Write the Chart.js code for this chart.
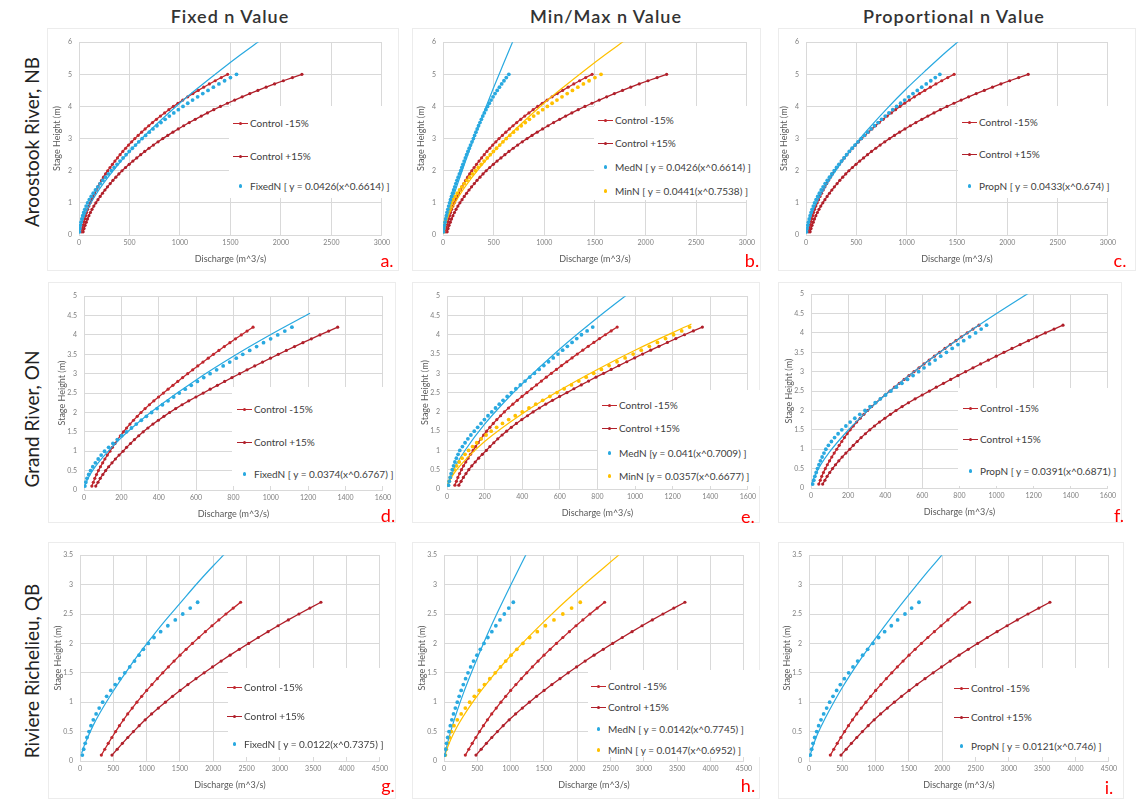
<!DOCTYPE html>
<html>
<head>
<meta charset="utf-8">
<script src="https://cdn.jsdelivr.net/npm/chart.js@4.4.0/dist/chart.umd.min.js"></script>
<style>
  body { margin: 0; background: #fff; font-family: Lato, "Open Sans", sans-serif; }
  #page { position: relative; width: 1140px; height: 804px; overflow: hidden; background: #fff; }
  .box { position: absolute; border: 1px solid #ececec; }
  .head { position: absolute; top: 5px; font-size: 18px; font-weight: 600; letter-spacing: 1px; color: #333; transform: translateX(-50%); white-space: nowrap; }
  .row { position: absolute; font-size: 19px; color: #222; white-space: nowrap; transform: translate(-50%, -50%) rotate(-90deg); }
  .wrap { position: absolute; }
  .lgbox { position: absolute; background: #fff; z-index: 2; }
  .lg { position: absolute; z-index: 3; font-size: 10px; color: #404040; white-space: nowrap; line-height: 12px; }
  .sym { position: absolute; top: 6px; }
  .letter { position: absolute; color: #ff0000; font-size: 18px; z-index: 3; transform: translate(-50%, -50%); }
</style>
</head>
<body>
<div id="page"></div>
<script>
// stage heights (m), one point every 0.1 m
const stage1 = [0.1,0.2,0.3,0.4,0.5,0.6,0.7,0.8,0.9,1,1.1,1.2,1.3,1.4,1.5,1.6,1.7,1.8,1.9,2,2.1,2.2,2.3,2.4,2.5,2.6,2.7,2.8,2.9,3,3.1,3.2,3.3,3.4,3.5,3.6,3.7,3.8,3.9,4,4.1,4.2,4.3,4.4,4.5,4.6,4.7,4.8,4.9,5];
const stage2 = [0.1,0.2,0.3,0.4,0.5,0.6,0.7,0.8,0.9,1,1.1,1.2,1.3,1.4,1.5,1.6,1.7,1.8,1.9,2,2.1,2.2,2.3,2.4,2.5,2.6,2.7,2.8,2.9,3,3.1,3.2,3.3,3.4,3.5,3.6,3.7,3.8,3.9,4,4.1,4.2];
const stage3 = [0.1,0.2,0.3,0.4,0.5,0.6,0.7,0.8,0.9,1,1.1,1.2,1.3,1.4,1.5,1.6,1.7,1.8,1.9,2,2.1,2.2,2.3,2.4,2.5,2.6,2.7];

// Aroostook River, NB - discharge (m^3/s)
const aroMinus = [27,33,40,48,56,65,75,86,98,111,125,140,155,171,188,206,224,243,263,284,307,331,356,381,407,434,462,491,522,553,586,620,655,691,728,767,807,848,890,934,980,1028,1077,1128,1181,1235,1291,1349,1409,1472];
const aroPlus = [41,50,60,72,84,98,113,129,147,167,188,210,233,257,282,309,336,365,395,426,461,497,534,572,611,651,693,737,783,830,879,930,983,1037,1092,1151,1211,1272,1335,1401,1470,1542,1616,1692,1772,1853,1937,2024,2114,2208];
const fixedNA = [5,9,14,20,28,37,47,58,71,85,102,121,141,163,186,210,236,263,291,320,348,377,406,436,466,497,528,560,592,625,660,696,733,772,812,853,895,939,984,1030,1077,1125,1175,1226,1278,1331,1386,1442,1500,1560];
const medNB = [5,9,14,20,26,33,40,48,56,65,74,84,94,105,116,127,138,150,162,175,186,197,209,221,233,246,259,272,286,300,312,325,338,351,365,379,393,408,424,440,457,475,494,514,535,557,579,602,625,650];
const minNB = [5,9,14,20,28,37,47,58,71,85,102,121,141,163,186,210,236,263,291,320,348,377,406,436,466,497,528,560,592,625,660,696,733,772,812,853,895,939,984,1030,1077,1125,1175,1226,1278,1331,1386,1442,1500,1560];
const propNC = [6,11,17,24,32,41,51,61,73,85,100,116,133,151,170,190,211,233,256,280,303,327,352,377,403,430,458,487,517,548,580,613,647,681,716,751,787,824,862,900,940,980,1021,1063,1106,1150,1195,1240,1285,1330];
// trendlines
const trendAx = [5,10,25,50,100,200,400,600,800,1000,1200,1400,1600,1780];
const trendAy = [0.12,0.2,0.36,0.57,0.9,1.42,2.24,2.93,3.54,4.11,4.63,5.13,5.61,6.02];
const trendBx = [5,10,25,50,100,200,300,400,500,600,690];
const trendBy = [0.09,0.17,0.36,0.65,1.17,2.1,2.97,3.79,4.59,5.35,6.03];
const trendCx = [5,10,25,50,100,200,400,600,800,1000,1200,1400,1510];
const trendCy = [0.13,0.2,0.38,0.61,0.97,1.54,2.46,3.23,3.92,4.56,5.15,5.72,6.01];

// Grand River, ON
const grandMinus = [42,50,58,67,77,88,100,112,125,139,152,166,180,195,211,228,246,265,285,305,327,350,374,399,425,450,476,502,528,555,582,609,637,665,693,722,751,781,811,842,873,905];
const grandPlus = [63,75,87,101,116,132,150,168,188,209,228,249,270,293,317,342,369,398,428,458,491,525,561,599,638,675,714,753,792,833,873,914,956,998,1040,1083,1127,1172,1217,1263,1310,1358];
const fixedND = [5,10,16,25,35,47,61,76,92,110,132,155,178,202,228,254,280,307,334,362,391,420,450,480,510,542,574,607,641,675,710,745,780,815,850,887,924,961,999,1037,1075,1113];
const medNE = [8,12,17,22,28,35,42,50,59,68,82,96,111,127,145,163,181,199,218,238,258,278,298,320,342,366,390,415,440,465,490,515,540,565,590,615,640,665,690,715,745,775];
const minNE = [5,11,18,27,38,51,65,80,96,115,136,158,182,208,235,264,295,328,363,400,436,472,509,547,585,623,662,701,740,780,821,862,904,947,990,1033,1076,1119,1162,1205,1248,1290];
const propNF = [9,15,21,28,35,43,51,60,70,80,94,110,127,146,166,188,211,236,263,291,318,346,374,402,431,460,490,520,550,580,609,639,669,699,730,761,792,823,855,887,917,946];
const trendDx = [5,10,25,50,100,200,300,400,600,800,1000,1210];
const trendDy = [0.11,0.18,0.33,0.53,0.84,1.35,1.78,2.16,2.84,3.45,4.01,4.56];
const trendEMedx = [5,10,25,50,100,200,300,400,600,800,960];
const trendEMedy = [0.13,0.21,0.39,0.64,1.03,1.68,2.23,2.73,3.63,4.44,5.05];
const trendEMinx = [5,10,25,50,100,200,400,600,800,1000,1300];
const trendEMiny = [0.11,0.17,0.31,0.49,0.77,1.23,1.95,2.56,3.1,3.6,4.28];
const trendFx = [5,10,25,50,100,200,300,400,600,800,1000,1200];
const trendFy = [0.12,0.19,0.36,0.58,0.93,1.49,1.97,2.4,3.17,3.86,4.5,5.11];

// Riviere Richelieu, QB
const richMinus = [320,372,424,478,534,592,652,716,784,854,926,1001,1079,1160,1242,1326,1412,1501,1593,1687,1783,1881,1981,2084,2190,2299,2410];
const richPlus = [480,558,636,717,801,888,978,1074,1176,1281,1389,1502,1619,1740,1863,1989,2118,2252,2390,2531,2675,2822,2972,3126,3285,3449,3615];
const fixedNG = [35,55,78,105,135,165,200,242,288,340,400,462,528,598,672,746,818,886,952,1025,1110,1210,1318,1430,1542,1654,1765];
const medNH = [12,25,38,55,75,95,118,143,170,200,228,258,290,324,360,400,443,494,545,600,658,718,778,840,905,972,1040];
const minNH = [20,35,55,80,110,150,200,258,320,385,455,530,607,687,768,848,926,1006,1093,1185,1285,1400,1522,1650,1783,1915,2045];
const propNI = [20,40,60,85,115,145,180,220,265,310,360,415,470,530,595,660,730,805,880,960,1045,1135,1235,1330,1440,1540,1650];
const trendGx = [25,50,100,200,300,500,750,1000,1250,1500,1750,2000,2160];
const trendGy = [0.13,0.22,0.36,0.61,0.82,1.19,1.61,1.99,2.35,2.68,3.01,3.32,3.51];
const trendHMedx = [10,25,50,100,200,300,400,600,800,1000,1230];
const trendHMedy = [0.08,0.17,0.29,0.5,0.86,1.18,1.47,2.02,2.52,2.99,3.51];
const trendHMinx = [15,25,50,100,200,400,700,1000,1500,2000,2630];
const trendHMiny = [0.1,0.14,0.22,0.36,0.59,0.95,1.4,1.79,2.37,2.9,3.51];
const trendIx = [15,25,50,100,200,300,500,750,1000,1250,1500,1750,2000];
const trendIy = [0.1,0.13,0.22,0.38,0.63,0.85,1.25,1.69,2.09,2.47,2.83,3.18,3.51];

// axis ticks
const xTicks1 = [0,500,1000,1500,2000,2500,3000];
const yTicks1 = [0,1,2,3,4,5,6];
const xTicks2 = [0,200,400,600,800,1000,1200,1400,1600];
const yTicks2 = [0,0.5,1,1.5,2,2.5,3,3.5,4,4.5,5];
const xTicks3 = [0,500,1000,1500,2000,2500,3000,3500,4000,4500];
const yTicks3 = [0,0.5,1,1.5,2,2.5,3,3.5];

const headers = ['Fixed n Value', 'Min/Max n Value', 'Proportional n Value'];
const rivers = ['Aroostook River, NB', 'Grand River, ON', 'Riviere Richelieu, QB'];

const RED1 = '#C0262D', RED2 = '#B01F2A', BLUE = '#29A9E0', GOLD = '#FFC000';
const TICK = '#7f7f7f', TITLE = '#595959', GRID = '#d9d9d9';

const page = document.getElementById('page');

function pts(xs, ys) {
    return xs.map((x, i) => ({ x: x, y: ys[i] }));
}

function control(xs, ys, color) {
    return { data: pts(xs, ys), showLine: true, borderColor: color, backgroundColor: color,
             borderWidth: 1.3, pointRadius: 1.6, pointBorderWidth: 0, tension: 0, order: 3 };
}
function dots(xs, ys, color) {
    return { data: pts(xs, ys), showLine: false, backgroundColor: color, borderColor: color,
             pointRadius: 1.9, pointBorderWidth: 0, order: 1 };
}
function trend(xs, ys, color) {
    return { data: pts(xs, ys), showLine: true, borderColor: color, borderWidth: 1.2,
             pointRadius: 0, cubicInterpolationMode: 'monotone', order: 2 };
}

const controlsLegend = [['line', RED1, 'Control -15%'], ['line', RED2, 'Control +15%']];

const panels = [
    { area: [79, 41, 382, 235], xt: xTicks1, yt: yTicks1, box: [47, 28, 397, 269],
      sets: [control(aroMinus, stage1, RED1), control(aroPlus, stage1, RED2), dots(fixedNA, stage1, BLUE), trend(trendAx, trendAy, BLUE)],
      lgBox: [229, 106, 396, 198], lgX: 233, lgY: [123, 156, 186],
      lg: [['dot', BLUE, 'FixedN [ y = 0.0426(x^0.6614) ]']], letter: ['a.', 387, 260] },
    { area: [443, 41, 747, 235], xt: xTicks1, yt: yTicks1, box: [412, 28, 759, 269],
      sets: [control(aroMinus, stage1, RED1), control(aroPlus, stage1, RED2), dots(medNB, stage1, BLUE), dots(minNB, stage1, GOLD),
             trend(trendBx, trendBy, BLUE), trend(trendAx, trendAy, GOLD)],
      lgBox: [594, 106, 760, 200], lgX: 598, lgY: [120, 143, 167, 191],
      lg: [['dot', BLUE, 'MedN [ y = 0.0426(x^0.6614) ]'], ['dot', GOLD, 'MinN [ y = 0.0441(x^0.7538) ]']], letter: ['b.', 752, 260] },
    { area: [806, 41, 1108, 235], xt: xTicks1, yt: yTicks1, box: [778, 28, 1134, 269],
      sets: [control(aroMinus, stage1, RED1), control(aroPlus, stage1, RED2), dots(propNC, stage1, BLUE), trend(trendCx, trendCy, BLUE)],
      lgBox: [958, 106, 1130, 198], lgX: 962, lgY: [122, 154, 186],
      lg: [['dot', BLUE, 'PropN [ y = 0.0433(x^0.674) ]']], letter: ['c.', 1120, 260] },
    { area: [84, 295, 383, 490], xt: xTicks2, yt: yTicks2, box: [48, 282, 394, 521],
      sets: [control(grandMinus, stage2, RED1), control(grandPlus, stage2, RED2), dots(fixedND, stage2, BLUE), trend(trendDx, trendDy, BLUE)],
      lgBox: [232, 387, 395, 486], lgX: 237, lgY: [409, 442, 474],
      lg: [['dot', BLUE, 'FixedN [ y = 0.0374(x^0.6767) ]']], letter: ['d.', 388, 515] },
    { area: [447, 295, 748, 489], xt: xTicks2, yt: yTicks2, box: [412, 282, 758, 521],
      sets: [control(grandMinus, stage2, RED1), control(grandPlus, stage2, RED2), dots(medNE, stage2, BLUE), dots(minNE, stage2, GOLD),
             trend(trendEMedx, trendEMedy, BLUE), trend(trendEMinx, trendEMiny, GOLD)],
      lgBox: [598, 390, 760, 486], lgX: 602, lgY: [405, 428, 453, 476],
      lg: [['dot', BLUE, 'MedN [y = 0.041(x^0.7009) ]'], ['dot', GOLD, 'MinN [y = 0.0357(x^0.6677) ]']], letter: ['e.', 748, 516] },
    { area: [811, 293, 1108, 488], xt: xTicks2, yt: yTicks2, box: [778, 282, 1120, 521],
      sets: [control(grandMinus, stage2, RED1), control(grandPlus, stage2, RED2), dots(propNF, stage2, BLUE), trend(trendFx, trendFy, BLUE)],
      lgBox: [958, 388, 1120, 486], lgX: 963, lgY: [408, 439, 471],
      lg: [['dot', BLUE, 'PropN [ y = 0.0391(x^0.6871) ]']], letter: ['f.', 1119, 515] },
    { area: [80, 554, 380, 761], xt: xTicks3, yt: yTicks3, box: [48, 542, 394, 797],
      sets: [control(richMinus, stage3, RED1), control(richPlus, stage3, RED2), dots(fixedNG, stage3, BLUE), trend(trendGx, trendGy, BLUE)],
      lgBox: [228, 668, 395, 757], lgX: 227, lgY: [687, 716, 744],
      lg: [['dot', BLUE, 'FixedN [ y = 0.0122(x^0.7375) ]']], letter: ['g.', 388, 785] },
    { area: [444, 554, 744, 761], xt: xTicks3, yt: yTicks3, box: [412, 542, 758, 797],
      sets: [control(richMinus, stage3, RED1), control(richPlus, stage3, RED2), dots(medNH, stage3, BLUE), dots(minNH, stage3, GOLD),
             trend(trendHMedx, trendHMedy, BLUE), trend(trendHMinx, trendHMiny, GOLD)],
      lgBox: [588, 670, 760, 757], lgX: 591, lgY: [686, 707, 729, 750],
      lg: [['dot', BLUE, 'MedN [ y = 0.0142(x^0.7745) ]'], ['dot', GOLD, 'MinN [ y = 0.0147(x^0.6952) ]']], letter: ['h.', 748, 785] },
    { area: [809, 554, 1109, 761], xt: xTicks3, yt: yTicks3, box: [778, 542, 1122, 797],
      sets: [control(richMinus, stage3, RED1), control(richPlus, stage3, RED2), dots(propNI, stage3, BLUE), trend(trendIx, trendIy, BLUE)],
      lgBox: [943, 668, 1120, 757], lgX: 954, lgY: [688, 717, 746],
      lg: [['dot', BLUE, 'PropN [ y = 0.0121(x^0.746) ]']], letter: ['i.', 1109, 787] }
];

// y axis box width, x axis box height, top / right padding
const YW = 31, XH = 32, PT = 10, PR = 12;

function el(cls, css, text) {
    let d = document.createElement('div');
    d.className = cls;
    Object.assign(d.style, css);
    if (text) d.textContent = text;
    page.appendChild(d);
    return d;
}

function legendItem(kind, color, text, x, y) {
    let item = el('lg', { left: x + 'px', top: (y - 6) + 'px', paddingLeft: '17px' }, text);
    if (kind == 'line') {
        let line = document.createElement('span');
        line.className = 'sym';
        Object.assign(line.style, { left: '0px', width: '15px', height: '1.3px', background: color, top: '5.5px' });
        item.appendChild(line);
    }
    let dot = document.createElement('span');
    dot.className = 'sym';
    let r = kind == 'line' ? 3.2 : 3.8;
    Object.assign(dot.style, { left: (7.5 - r / 2) + 'px', top: (6.2 - r / 2) + 'px', width: r + 'px', height: r + 'px',
                               borderRadius: '50%', background: color });
    item.appendChild(dot);
}

function makePanel(p) {
    let [l, t, r, b] = p.area;
    el('box', { left: p.box[0] + 'px', top: p.box[1] + 'px', width: (p.box[2] - p.box[0]) + 'px', height: (p.box[3] - p.box[1]) + 'px' });

    let w = (r - l) + YW + PR, h = (b - t) + PT + XH;
    let wrap = el('wrap', { left: (l - YW) + 'px', top: (t - PT) + 'px', width: w + 'px', height: h + 'px' });
    let canvas = document.createElement('canvas');
    canvas.width = w;
    canvas.height = h;
    wrap.appendChild(canvas);

    let xt = p.xt, yt = p.yt;
    new Chart(canvas, {
        type: 'scatter',
        data: { datasets: p.sets },
        options: {
            responsive: false,
            animation: false,
            layout: { padding: { top: PT, right: PR, left: 0, bottom: 0 } },
            plugins: { legend: { display: false }, tooltip: { enabled: false } },
            scales: {
                x: {
                    type: 'linear', min: xt[0], max: xt[xt.length - 1],
                    afterBuildTicks: s => { s.ticks = xt.map(v => ({ value: v })); },
                    afterFit: s => { s.height = XH; },
                    ticks: { color: TICK, font: { family: 'Lato', size: 7 }, padding: 4, maxRotation: 0, autoSkip: false, callback: v => String(v) },
                    grid: { color: GRID, drawTicks: false },
                    border: { display: false },
                    title: { display: true, text: 'Discharge (m^3/s)', color: TITLE, font: { family: 'Lato', size: 9 }, padding: { top: 0, bottom: 3 } }
                },
                y: {
                    type: 'linear', min: yt[0], max: yt[yt.length - 1],
                    afterBuildTicks: s => { s.ticks = yt.map(v => ({ value: v })); },
                    afterFit: s => { s.width = YW; },
                    ticks: { color: TICK, font: { family: 'Lato', size: 7 }, padding: 7, autoSkip: false, callback: v => String(v) },
                    grid: { color: GRID, drawTicks: false },
                    border: { display: false },
                    title: { display: true, text: 'Stage Height (m)', color: TITLE, font: { family: 'Lato', size: 9 }, padding: { top: 4, bottom: 0 } }
                }
            }
        }
    });

    el('lgbox', { left: p.lgBox[0] + 'px', top: p.lgBox[1] + 'px', width: (p.lgBox[2] - p.lgBox[0]) + 'px', height: (p.lgBox[3] - p.lgBox[1]) + 'px' });
    let items = controlsLegend.concat(p.lg);
    items.forEach((it, i) => legendItem(it[0], it[1], it[2], p.lgX, p.lgY[i]));
    el('letter', { left: p.letter[1] + 'px', top: p.letter[2] + 'px' }, p.letter[0]);
}

panels.forEach(makePanel);

const headX = [230, 606, 954];
headers.forEach((t, i) => el('head', { left: headX[i] + 'px' }, t));
const riverY = [142, 419, 671];
rivers.forEach((t, i) => el('row', { left: '31px', top: riverY[i] + 'px' }, t));
</script>
</body>
</html>
